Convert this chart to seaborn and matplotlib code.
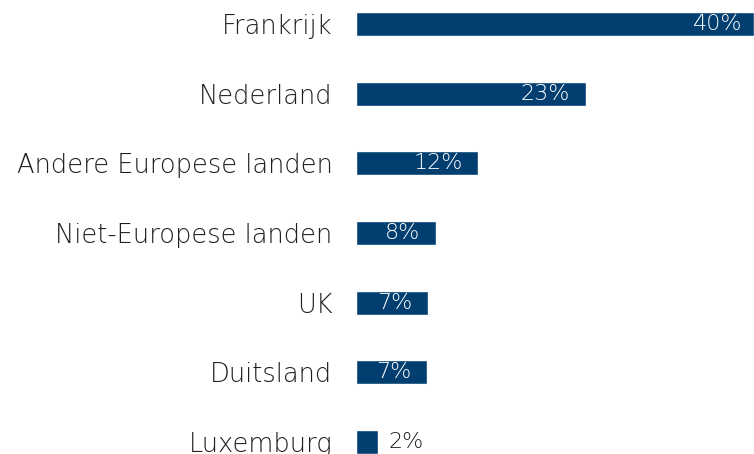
import matplotlib.pyplot as plt
import pandas as pd
import seaborn as sns

# Data (bar lengths estimated, labels as printed)
landen = ['Frankrijk', 'Nederland', 'Andere Europese landen', 'Niet-Europese landen',
          'UK', 'Duitsland', 'Luxemburg']
aandeel = [40, 23.1, 12.3, 8.0, 7.25, 7.15, 2.2]
labels = ['40%', '23%', '12%', '8%', '7%', '7%', '2%']

df = pd.DataFrame({'land': landen, 'aandeel': aandeel})

sns.set_style('white')
plt.rcParams['font.family'] = ['DejaVu Sans']

blauw = '#023f70'
tekst = '#1e1e1e'

fig = plt.figure(figsize=(7.54, 4.54), dpi=100)
ax = fig.add_axes([356 / 754, 0, 1 - 356 / 754, 1])

sns.barplot(data=df, y='land', x='aandeel', color=blauw, saturation=1,
            width=0.344, orient='h', ax=ax)

ax.set_xlim(0, 40.05)
ax.set_ylim(6.17, -0.344)
ax.set_xlabel('')
ax.set_ylabel('')
ax.set_xticks([])
sns.despine(ax=ax, left=True, bottom=True)
ax.tick_params(axis='y', length=0, pad=17)
for t in ax.get_yticklabels():
    t.set_fontsize(18.5)
    t.set_color(tekst)
    t.set_fontweight('light')

# percentage labels: inside (white) for wide bars, outside for the small one
for i, (v, lab) in enumerate(zip(aandeel, labels)):
    if v >= 5:
        dx = -8 if v >= 30 else -11
        ax.annotate(lab, (v, i), xytext=(dx, 0), textcoords='offset points',
                    ha='right', va='center', color='white', fontsize=16,
                    fontweight='light')
    else:
        ax.annotate(lab, (v, i), xytext=(8, 0), textcoords='offset points',
                    ha='left', va='center', color=tekst, fontsize=16,
                    fontweight='light')

fig.savefig('out.png', dpi=100)
